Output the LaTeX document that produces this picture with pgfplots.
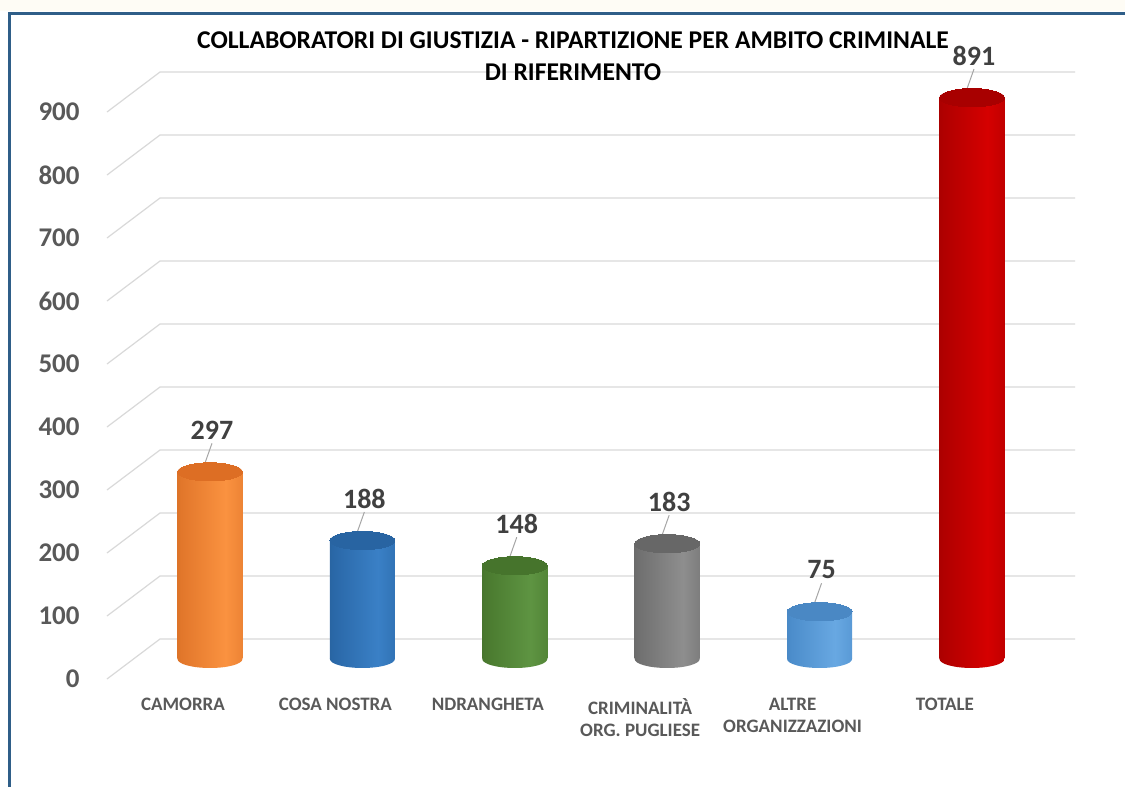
\documentclass[border=0pt]{standalone}
\usepackage{fontspec}
\setmainfont{Carlito}
\usepackage{pgfplots}
\pgfplotsset{compat=1.18}

\definecolor{frameblue}{HTML}{2F5E88}
\definecolor{cream}{HTML}{FEFCF5}
\definecolor{gridc}{HTML}{D9D9D9}
\definecolor{tickc}{HTML}{595959}
\definecolor{labc}{HTML}{404040}
\definecolor{leadc}{HTML}{A6A6A6}

% orange
\definecolor{oD}{HTML}{B9530F}\definecolor{oM}{HTML}{E2772B}\definecolor{oL}{HTML}{FA9240}\definecolor{otop}{HTML}{DD6E24}
% blue
\definecolor{bD}{HTML}{1C4A76}\definecolor{bM}{HTML}{2A68A8}\definecolor{bL}{HTML}{3A80C6}\definecolor{btop}{HTML}{2864A2}
% green
\definecolor{gD}{HTML}{345220}\definecolor{gM}{HTML}{4A7A2F}\definecolor{gL}{HTML}{5E9442}\definecolor{gtop}{HTML}{46742C}
% gray
\definecolor{kD}{HTML}{4A4A4A}\definecolor{kM}{HTML}{707070}\definecolor{kL}{HTML}{8E8E8E}\definecolor{ktop}{HTML}{676767}
% light blue
\definecolor{lD}{HTML}{2E6AA0}\definecolor{lM}{HTML}{4C8DCB}\definecolor{lL}{HTML}{68A8E2}\definecolor{ltop}{HTML}{4A88C4}
% red
\definecolor{rD}{HTML}{820000}\definecolor{rM}{HTML}{B00000}\definecolor{rL}{HTML}{D50000}\definecolor{rtop}{HTML}{A80000}

\newcommand\cylshading[4]{%
 \pgfdeclarehorizontalshading{#1}{100bp}{color(0bp)=(#2); color(28bp)=(#3); color(62bp)=(#4); color(86bp)=(#3); color(100bp)=(#2)}%
 \pgfdeclareplotmark{#1bot}{\pgfpathellipse{\pgfpointorigin}{\pgfqpoint{16.25pt}{0pt}}{\pgfqpoint{0pt}{4.5pt}}\pgfshadepath{#1}{0}\pgfusepath{discard}}%
}
\cylshading{cylo}{oD}{oM}{oL}
\cylshading{cylb}{bD}{bM}{bL}
\cylshading{cylg}{gD}{gM}{gL}
\cylshading{cylk}{kD}{kM}{kL}
\cylshading{cyll}{lD}{lM}{lL}
\cylshading{cylr}{rD}{rM}{rL}

% x, value, shading name, top colour
\newcommand\cylbar[4]{%
 \addplot[only marks, mark=#3bot] coordinates {(#1,0)};
 \addplot[ybar, bar width=32.5pt, bar shift=0pt, draw=none, shade, shading=#3] coordinates {(#1,#2)};
 \addplot[quiver={u=0.085,v=58}, draw=leadc, line width=0.5pt, no markers,
   x filter/.expression={x-0.072}, y filter/.expression={y-12.7}] coordinates {(#1,#2)};
 \addplot[#4, only marks, mark=*, mark size=16.25pt, mark options={yscale=0.28, fill=#4, draw=#4, line width=0pt},
   nodes near coords, every node near coord/.append style={anchor=center, yshift=21pt, xshift=1pt,
   font=\bfseries\fontsize{14}{16}\selectfont, text=labc}] coordinates {(#1,#2)};
}

\begin{document}
\begin{tikzpicture}[x=1pt,y=1pt]
\useasboundingbox (0,0) rectangle (562.5,393.5);
\fill[white] (0,0) rectangle (562.5,393.5);
\fill[cream] (0,388) rectangle (562.5,393.5);
\draw[frameblue, line width=1.6pt] (4.75,0) -- (4.75,386.75) -- (563,386.75);

\begin{axis}[
  at={(80pt,64pt)}, anchor=south west,
  scale only axis, width=457.5pt, height=283.5pt,
  xmin=-0.328, xmax=5.676, ymin=0, ymax=900,
  clip=false,
  axis line style={draw=none},
  tick style={draw=none},
  major tick length=0pt,
  ytick={0,100,...,900},
  xtick={0,1,2,3,4,5},
  xticklabels={CAMORRA,COSA NOSTRA,NDRANGHETA,{CRIMINALITÀ\\ORG. PUGLIESE},{ALTRE\\ORGANIZZAZIONI},TOTALE},
  /pgf/number format/assume math mode=true,
  yticklabel style={anchor=east, inner sep=0pt, xshift=-40pt, yshift=-10pt,
     font=\bfseries\fontsize{13.5}{15}\selectfont, text=tickc},
  xticklabel style={anchor=north, inner sep=0pt, align=center, xshift=-13.5pt, yshift=-19.5pt,
     font=\bfseries\fontsize{9.5}{11}\selectfont, text=tickc},
]
\pgfplotsinvokeforeach{0,100,...,900}{
  \draw[gridc, line width=0.6pt] ([xshift=-26.5pt,yshift=-10pt]axis cs:-0.328,#1) -- ([yshift=10pt]axis cs:-0.328,#1) -- ([yshift=10pt]axis cs:5.676,#1);
}
\cylbar{0}{297}{cylo}{otop}
\cylbar{1}{188}{cylb}{btop}
\cylbar{2}{148}{cylg}{gtop}
\cylbar{3}{183}{cylk}{ktop}
\cylbar{4}{75}{cyll}{ltop}
\cylbar{5}{891}{cylr}{rtop}
\end{axis}

\node[align=center, font=\bfseries\fontsize{12.8}{16}\selectfont, text=black, inner sep=0pt] at (286.5,365.5)
  {COLLABORATORI DI GIUSTIZIA - RIPARTIZIONE PER AMBITO CRIMINALE\\DI RIFERIMENTO};
\end{tikzpicture}
\end{document}
